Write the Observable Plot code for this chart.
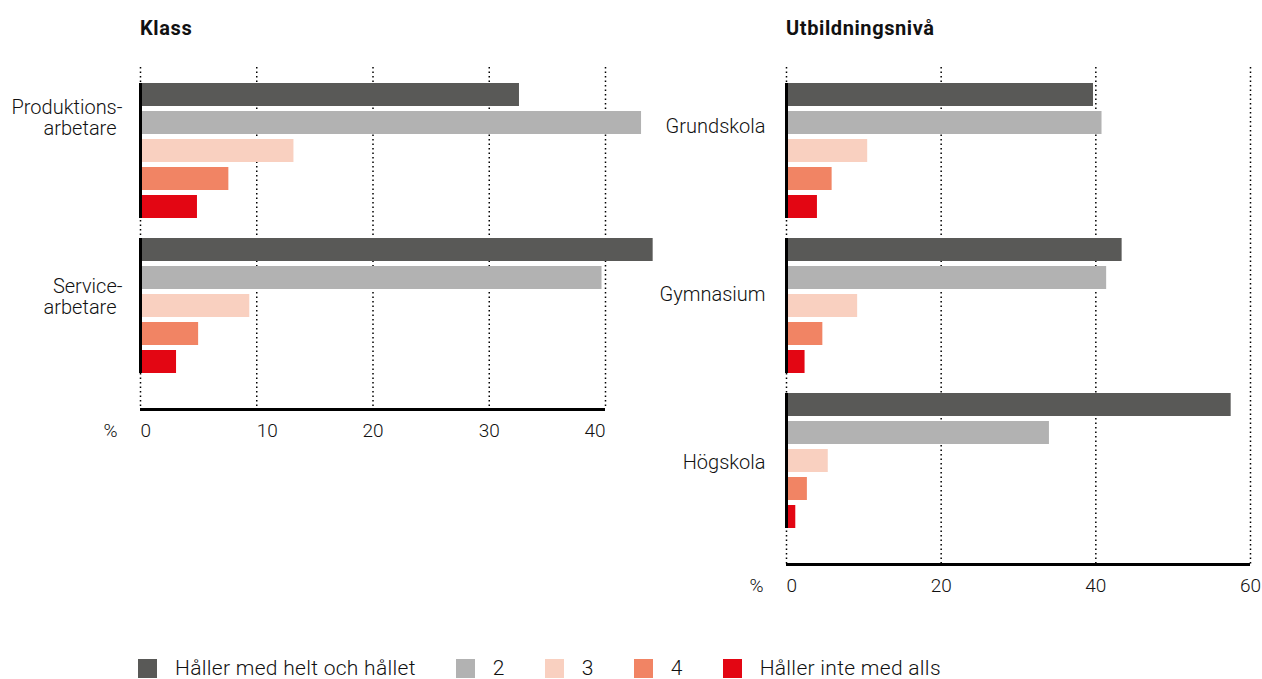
<!DOCTYPE html>
<html>
<head>
<meta charset="utf-8">
<script src="https://cdn.jsdelivr.net/npm/d3@7"></script>
<script src="https://cdn.jsdelivr.net/npm/@observablehq/plot@0.6"></script>
<style>
  body { margin: 0; background: #fff; font-family: Roboto, "Noto Sans", sans-serif; }
  #root { position: relative; width: 1262px; height: 679px; overflow: hidden; }
  .title { position: absolute; top: 18px; font-weight: 700; font-size: 20px; line-height: 20px; color: #111; letter-spacing: 0.6px; }
  .chart { position: absolute; top: 0; }
  .chart svg { overflow: visible; }
  #legend { position: absolute; left: 138px; top: 659px; display: flex; align-items: center; font-size: 21px; font-weight: 300; color: #111; line-height: 19px; letter-spacing: 0.3px; }
  .item { display: flex; align-items: center; margin-right: 40px; }
  .sw { width: 19px; height: 19px; margin-right: 18px; }
</style>
</head>
<body>
<div id="root">
  <div class="title" style="left:140px">Klass</div>
  <div class="title" style="left:786px">Utbildningsnivå</div>
  <div class="chart" id="left" style="left:0px"></div>
  <div class="chart" id="right" style="left:650px"></div>
  <div id="legend"></div>
</div>
<script>
// ---- data ----
const series = ["Håller med helt och hållet", "2", "3", "4", "Håller inte med alls"];
const seriesColors = ["#595957", "#b2b2b2", "#f9d0c0", "#f18464", "#e30613"];

const klassCategories = ["Produktions-\narbetare", "Service-\narbetare"];
const klassValues = [
  [32.6, 43.1, 13.2, 7.6, 4.9],
  [44.1, 39.7, 9.4, 5.0, 3.1]
];
const klassTicks = [0, 10, 20, 30, 40];

const utbCategories = ["Grundskola", "Gymnasium", "Högskola"];
const utbValues = [
  [39.7, 40.8, 10.5, 5.9, 4.0],
  [43.4, 41.4, 9.2, 4.7, 2.4],
  [57.5, 34.0, 5.4, 2.7, 1.2]
];
const utbTicks = [0, 20, 40, 60];

// ---- layout helpers (row units: one bar row = 28px) ----
const ROW = 28;
const MT = 67, MB = 52;
const first = 16 / ROW, groupStep = 155 / ROW, barH = 23 / ROW, bottomPad = 36 / ROW;

function chart(cfg) {
  const {categories, values, ticks, width, marginLeft, marginRight, labelDx, labelA, labelB, anchorOf} = cfg;
  const n = categories.length;
  const total = first + (n - 1) * groupStep + 4 + barH + bottomPad;
  const height = MT + total * ROW + MB;

  const rows = categories.flatMap((c, g) => values[g].map((v, i) => ({
    cat: c, g, i, series: series[i], value: v,
    y1: first + g * groupStep + i,
    y2: first + g * groupStep + i + barH
  })));
  const groups = categories.map((c, g) => ({
    cat: c,
    y1: first + g * groupStep,
    y2: first + g * groupStep + 4 + barH
  }));
  const lines = categories.flatMap((c, g) => {
    const parts = c.split("\n");
    const center = first + g * groupStep + (labelA + labelB * g) / ROW;
    return parts.map((t, k) => ({t, y: center + (k - (parts.length - 1) / 2) * 21.5 / ROW, hy: t.endsWith("-")}));
  });
  const xmax = ticks[ticks.length - 1];
  const tickText = (anchor) => Plot.text(ticks.filter(t => anchorOf(t) === anchor), {
    x: d => d, y: () => total, dy: 21, text: d => String(d),
    textAnchor: anchor, fontSize: 19, fontWeight: 300, fill: "#111", lineAnchor: "middle"
  });

  return Plot.plot({
    width, height, marginLeft, marginRight, marginTop: MT, marginBottom: MB,
    style: {fontFamily: "Roboto, 'Noto Sans', sans-serif", background: "transparent", overflow: "visible"},
    x: {domain: [0, xmax], axis: null},
    y: {type: "linear", domain: [0, total], range: [MT, MT + total * ROW], axis: null},
    color: {domain: series, range: seriesColors},
    marks: [
      Plot.ruleX(ticks, {x: d => d, stroke: "#000", strokeWidth: 1.5, strokeDasharray: "1.5,3"}),
      Plot.rect(rows, {x1: () => 0, x2: "value", y1: "y1", y2: "y2", fill: "series"}),
      Plot.ruleX(groups, {x: () => 0, y1: "y1", y2: "y2", stroke: "#000", strokeWidth: 3}),
      Plot.ruleY([total], {x1: 0, x2: xmax, y: d => d, stroke: "#000", strokeWidth: 3}),
      tickText("start"), tickText("middle"), tickText("end"),
      Plot.text(["%"], {x: () => 0, y: () => total, dy: 21, dx: -30, text: d => d, fontSize: 19, fontWeight: 300, fill: "#111"}),
      Plot.text(lines.filter(d => !d.hy), {x: () => 0, y: "y", text: "t", textAnchor: "end", dx: labelDx, fontSize: 20, fontWeight: 300, fill: "#111"}),
      Plot.text(lines.filter(d => d.hy), {x: () => 0, y: "y", text: "t", textAnchor: "end", dx: labelDx + 6, fontSize: 20, fontWeight: 300, fill: "#111"})
    ]
  });
}

document.getElementById("left").appendChild(chart({
  categories: klassCategories, values: klassValues, ticks: klassTicks,
  width: 660, marginLeft: 140, marginRight: 55,
  labelDx: -24, labelA: 34.5, labelB: 24,
  anchorOf: t => (t <= 10 ? "start" : t >= 40 ? "end" : "middle")
}));

document.getElementById("right").appendChild(chart({
  categories: utbCategories, values: utbValues, ticks: utbTicks,
  width: 612, marginLeft: 136, marginRight: 12,
  labelDx: -21, labelA: 43.5, labelB: 13,
  anchorOf: t => (t === 0 ? "start" : "middle")
}));

// ---- legend ----
const legend = document.getElementById("legend");
series.forEach((s, i) => {
  const item = document.createElement("div");
  item.className = "item";
  const sw = document.createElement("div");
  sw.className = "sw";
  sw.style.background = seriesColors[i];
  const label = document.createElement("span");
  label.textContent = s;
  item.appendChild(sw);
  item.appendChild(label);
  legend.appendChild(item);
});
</script>
</body>
</html>
